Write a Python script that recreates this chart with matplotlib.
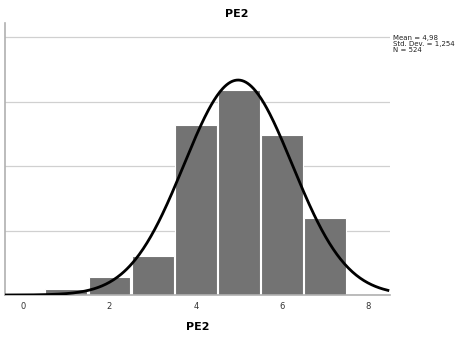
import matplotlib
matplotlib.use("Agg")
import matplotlib.pyplot as plt
import numpy as np

# histogram of PE2 (bin centres and counts)
bin_centers = [1, 2, 3, 4, 5, 6, 7]
counts = [5, 14, 30, 132, 159, 124, 60]
mean, std_dev, n_total = 4.98, 1.254, 524
x_ticks = [0, 2, 4, 6, 8]
y_ticks = [0, 50, 100, 150, 200]

fig = plt.figure(figsize=(4.73, 3.38), dpi=100)
ax = fig.add_axes([0.0106, 0.1272, 0.814, 0.805])

ax.bar(bin_centers, counts, width=0.97, color="#737373", edgecolor="white",
       linewidth=0.8, zorder=2)

xs = np.linspace(-0.42, 8.45, 400)
pdf = n_total / (std_dev * np.sqrt(2 * np.pi)) * np.exp(-0.5 * ((xs - mean) / std_dev) ** 2)
ax.plot(xs, pdf, color="black", lw=2, zorder=3)

ax.set_xlim(-0.42, 8.5)
ax.set_ylim(0, 211)
ax.set_xticks(x_ticks)
ax.set_xticklabels([str(t) for t in x_ticks], fontsize=6, color="#333333")
# y tick labels fall outside the cropped picture in the reference
ax.set_yticks(y_ticks)
ax.set_yticklabels([])
ax.tick_params(axis="both", length=0)
ax.tick_params(axis="x", pad=5)
ax.grid(axis="y", color="#d0d0d0", lw=0.9, zorder=0)
ax.set_axisbelow(True)
for side in ("top", "right"):
    ax.spines[side].set_visible(False)
for side in ("left", "bottom"):
    ax.spines[side].set_color("#b0b0b0")
    ax.spines[side].set_linewidth(1.2)

ax.set_xlabel("PE2", fontsize=8, fontweight="bold", labelpad=8)
fig.text(0.501, 0.958, "PE2", fontsize=8, fontweight="bold", ha="center", va="center")
fig.text(0.831, 0.895, f"Mean = 4,98\nStd. Dev. = 1,254\nN = {n_total}",
         fontsize=5, ha="left", va="top", linespacing=0.95, color="#222222")

fig.savefig("out.png", dpi=100)
